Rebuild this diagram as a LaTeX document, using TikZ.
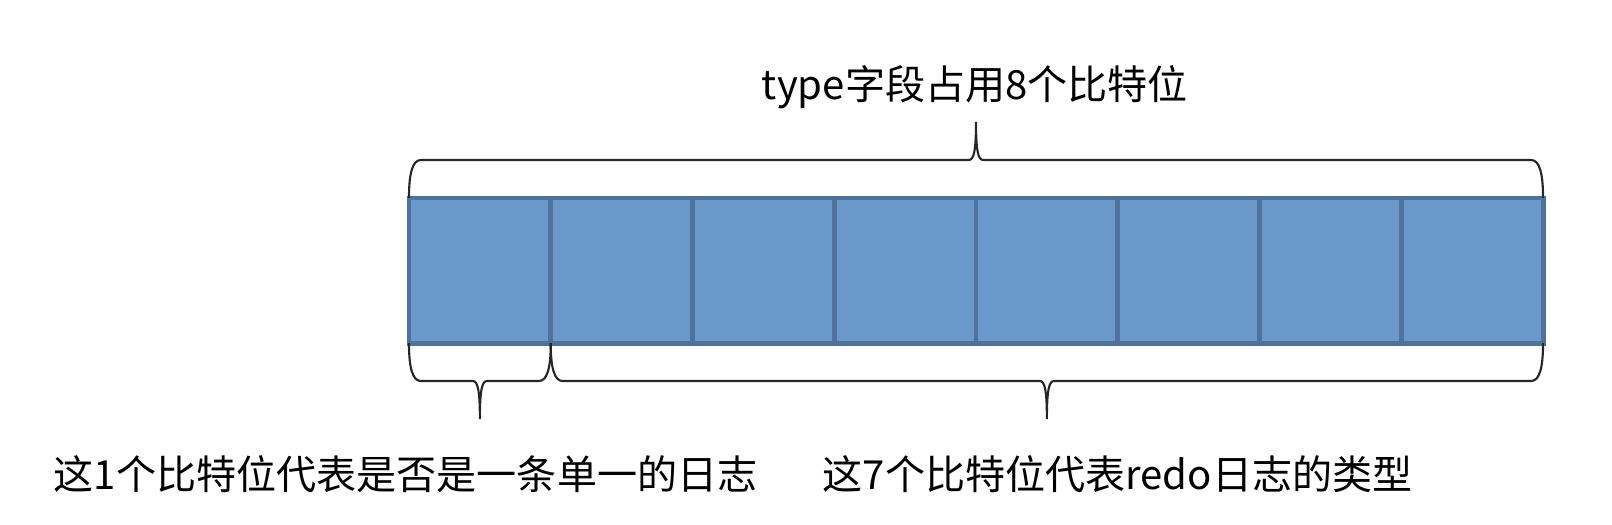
\documentclass[tikz,border=0pt]{standalone}
\usepackage{fontspec}
\setmainfont{Noto Sans CJK SC}
\usetikzlibrary{calc}
\definecolor{bitfill}{HTML}{6A98CB}
\definecolor{bitline}{HTML}{4E7299}
\tikzset{
  bitcell/.style={draw=bitline, fill=bitfill, line width=1.4pt, inner sep=0pt, outer sep=0pt, minimum width=1.4175cm, minimum height=1.45cm},
  bitbrace/.style={line width=0.6pt, draw=black!85, to path={
    let \p1=(\tikztostart), \p2=(\tikztotarget), \p3=($(\p1)!0.5!(\p2)$) in
    .. controls ({\x1},{\y1+(#1)*7pt}) and ({\x1+1pt},{\y1+(#1)*10.8pt}) .. ({\x1+3.4pt},{\y1+(#1)*10.8pt})
    -- ({\x3-2pt},{\y1+(#1)*10.8pt})
    .. controls ({\x3-0.6pt},{\y1+(#1)*10.8pt}) and ({\x3},{\y1+(#1)*13.5pt}) .. ({\x3},{\y1+(#1)*21.6pt})
    .. controls ({\x3},{\y1+(#1)*13.5pt}) and ({\x3+0.6pt},{\y1+(#1)*10.8pt}) .. ({\x3+2pt},{\y1+(#1)*10.8pt})
    -- ({\x2-3.4pt},{\y1+(#1)*10.8pt})
    .. controls ({\x2-1pt},{\y1+(#1)*10.8pt}) and ({\x2},{\y1+(#1)*7pt}) .. (\tikztotarget)}},
  bitlabel/.style={inner sep=0pt, font=\fontsize{11.4pt}{13pt}\selectfont}
}
\begin{document}
\begin{tikzpicture}[x=0.01cm, y=-0.01cm]
\useasboundingbox (0,0) rectangle (1612,524);
\foreach \i in {0,...,7}
  \node[bitcell] (c\i) at ({409+141.75*(\i+0.5)},270.5) {};
\draw[bitbrace=1] (c0.north west) to (c7.north east);
\draw[bitbrace=-1] (c0.south west) to (c0.south east);
\draw[bitbrace=-1] (c1.south west) to (c7.south east);
\node[bitlabel] (typelabel) at (975,87) {type字段占用8个比特位};
\node[bitlabel, anchor=west] (flaglabel) at (53,474) {这1个比特位代表是否是一条单一的日志};
\node[bitlabel, anchor=west] (kindlabel) at (822,474) {这7个比特位代表redo日志的类型};
\end{tikzpicture}
\end{document}
